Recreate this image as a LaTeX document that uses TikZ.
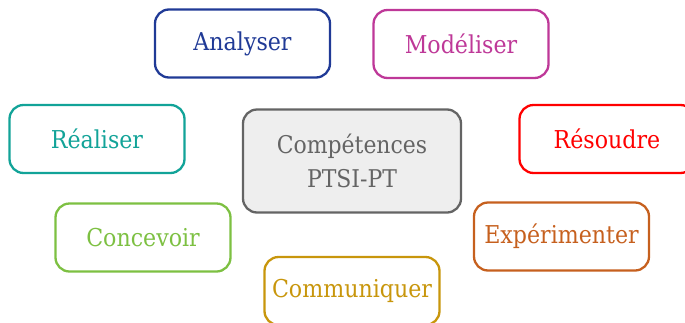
\documentclass[tikz,border=0pt]{standalone}
\usepackage{fontspec}
\setmainfont{DejaVu Serif Condensed}
\definecolor{cAna}{RGB}{32,58,150}
\definecolor{cMod}{RGB}{190,56,152}
\definecolor{cRea}{RGB}{18,163,152}
\definecolor{cRes}{RGB}{255,0,0}
\definecolor{cCon}{RGB}{125,192,66}
\definecolor{cExp}{RGB}{198,96,30}
\definecolor{cCom}{RGB}{200,150,12}
\definecolor{cCen}{RGB}{100,100,100}
\definecolor{cFill}{RGB}{238,238,238}
\tikzset{
  comp/.style={draw=#1, text=#1, line width=2.3pt, rounded corners=14pt,
    minimum width=175pt, minimum height=68pt, inner sep=0pt,
    font=\fontsize{24.6}{28}\selectfont},
  centre/.style={draw=cCen, text=cCen, fill=cFill, line width=2.3pt, rounded corners=14pt,
    minimum width=218pt, minimum height=103pt, inner sep=0pt, align=center,
    font=\fontsize{24.4}{34}\selectfont}
}
\begin{document}
\begin{tikzpicture}[x=1pt,y=-1pt]
\useasboundingbox (0,0) rectangle (685,322);
\node[centre] (c) at (352,161) {Compétences\\PTSI-PT};
\node[comp=cAna] (ana) at (242.5,43.5) {Analyser};
\node[comp=cMod] (mod) at (461,44) {Modéliser};
\node[comp=cRea] (rea) at (97,139) {Réaliser};
\node[comp=cRes] (res) at (607,139) {Résoudre};
\node[comp=cCon] (con) at (143,237.5) {Concevoir};
\node[comp=cExp] (exp) at (561.5,236.5) {Expérimenter};
\node[comp=cCom] (com) at (352,291) {Communiquer};
\end{tikzpicture}
\end{document}
